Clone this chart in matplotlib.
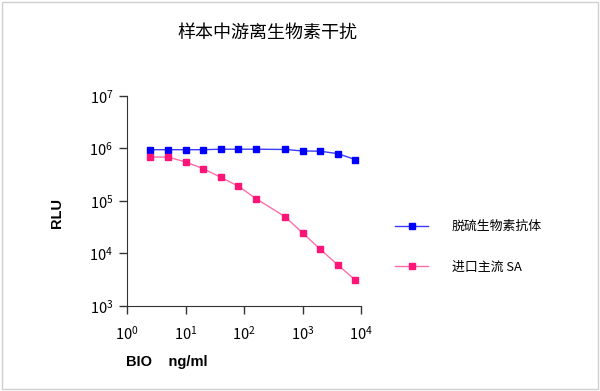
import matplotlib.pyplot as plt
import numpy as np

plt.rcParams['font.family'] = ['Noto Sans CJK SC', 'DejaVu Sans']
plt.rcParams['mathtext.fontset'] = 'custom'
plt.rcParams['mathtext.rm'] = 'Liberation Sans'
plt.rcParams['mathtext.default'] = 'rm'

# concentration of biotin, ng/ml
conc = [2.5, 5, 10, 20, 40, 80, 160, 500, 1000, 2000, 4000, 8000]
# RLU signal for the two streptavidin sources
rlu_desulf = [9.4e5, 9.4e5, 9.4e5, 9.4e5, 9.6e5, 9.6e5, 9.6e5, 9.5e5, 8.9e5, 8.8e5, 7.9e5, 6.1e5]
rlu_import = [6.8e5, 6.8e5, 5.5e5, 4.1e5, 2.8e5, 1.9e5, 1.1e5, 5.0e4, 2.45e4, 1.2e4, 6.0e3, 3.1e3]
series_names = ['脱硫生物素抗体', '进口主流 SA']

fig = plt.figure(figsize=(6, 3.91), dpi=100)
ax = fig.add_axes([0.2117, 0.218, 0.39, 0.537])

ax.plot(conc, rlu_desulf, color='#3c3cff', lw=1, marker='s', ms=4.5,
        mfc='#0000ff', mec='#0000ff', label=series_names[0])
ax.plot(conc, rlu_import, color='#ff6fa8', lw=1, marker='s', ms=4.5,
        mfc='#ff1477', mec='#ff1477', label=series_names[1])

ax.set_xscale('log')
ax.set_yscale('log')
ax.set_xlim(1, 1e4)
ax.set_ylim(1e3, 1e7)
ax.set_xticks([1, 10, 100, 1000, 10000])
ax.set_yticks([1e3, 1e4, 1e5, 1e6, 1e7])
ax.minorticks_off()
for s in ['left', 'bottom']:
    ax.spines[s].set_color('#333333')
ax.spines['top'].set_visible(False)
ax.spines['right'].set_visible(False)
ax.tick_params(direction='out', length=6, width=1, color='#333333', labelsize=10.5, pad=8)
ax.tick_params(axis='y', pad=4)

fig.text(0.445, 0.915, '样本中游离生物素干扰', ha='center', va='center',
         fontsize=13, fontweight='medium')
fig.text(0.095, 0.455, 'RLU', rotation=90, ha='center', va='center',
         fontsize=10.5, fontweight='bold', family='Liberation Sans')
fig.text(0.210, 0.073, 'BIO    ng/ml', ha='left', va='center',
         fontsize=10.5, fontweight='bold', family='Liberation Sans')

fig.legend(loc='center left', bbox_to_anchor=(0.658, 0.368), frameon=False,
           fontsize=9.3, handlelength=2.6, handletextpad=1.8, labelspacing=2.15,
           borderpad=0, borderaxespad=0)

# light border around the image
fig.patches.append(plt.Rectangle((0.003, 0.004), 0.994, 0.992, transform=fig.transFigure,
                                 fill=False, edgecolor='#d0d0d0', lw=1))

fig.savefig('out.png', dpi=100)
